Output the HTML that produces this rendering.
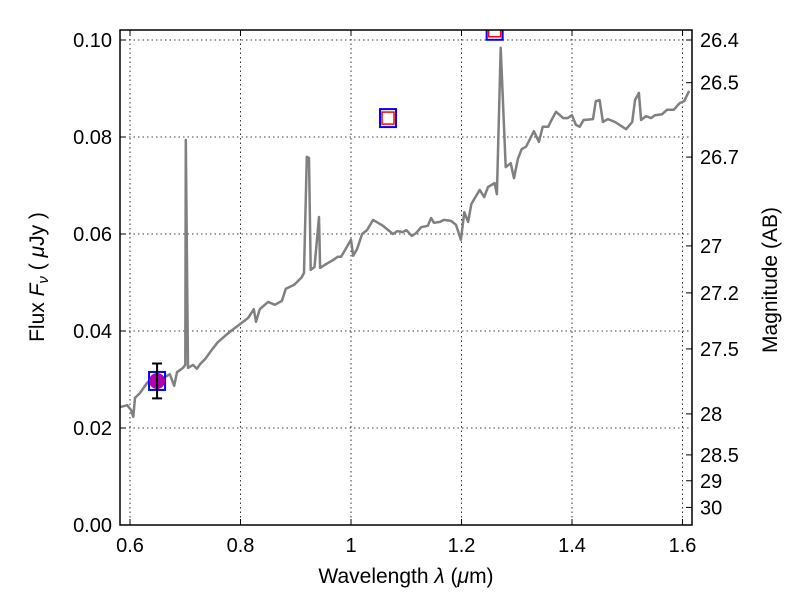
<!DOCTYPE html>
<html><head><meta charset="utf-8"><style>
body{margin:0;background:#fff}
svg text{font-family:"Liberation Sans","DejaVu Sans",sans-serif;fill:#000}
</style></head><body>
<svg id="c" width="800" height="600" viewBox="0 0 800 600">
<defs><clipPath id="clip"><rect x="120" y="30" width="572" height="495"/></clipPath></defs>
<rect x="0" y="0" width="800" height="600" fill="#fff"/>
<g id="grid"></g>
<g id="plot" clip-path="url(#clip)"></g>
<rect x="120" y="30" width="572" height="495" fill="none" stroke="#000" stroke-width="1.5"/>
<g id="axes"></g>
<text x="406" y="583" font-size="21" text-anchor="middle">Wavelength  <tspan font-style="italic">λ</tspan> (<tspan font-style="italic">μ</tspan>m)</text>
<text transform="translate(44,277) rotate(-90)" font-size="21" text-anchor="middle">Flux  <tspan font-style="italic">F<tspan font-size="15" dy="4">ν</tspan></tspan><tspan dy="-4">  (  </tspan><tspan font-style="italic">μ</tspan>Jy )</text>
<text transform="translate(777,280) rotate(-90)" font-size="21" text-anchor="middle">Magnitude (AB)</text>
</svg>
<script>
const wavelengths=[0.582,0.595,0.602,0.606,0.609,0.618,0.631,0.640,0.660,0.672,0.680,0.685,0.696,0.700,0.701,0.705,0.714,0.721,0.727,0.736,0.741,0.748,0.759,0.772,0.785,0.799,0.814,0.824,0.828,0.835,0.850,0.862,0.875,0.882,0.897,0.911,0.915,0.920,0.924,0.927,0.934,0.942,0.944,0.955,0.967,0.976,0.982,1.0,1.004,1.011,1.02,1.029,1.040,1.058,1.076,1.084,1.094,1.100,1.110,1.118,1.127,1.139,1.145,1.150,1.161,1.168,1.181,1.190,1.199,1.205,1.212,1.218,1.224,1.233,1.241,1.248,1.26,1.264,1.271,1.280,1.289,1.295,1.302,1.309,1.317,1.324,1.331,1.340,1.347,1.357,1.362,1.371,1.384,1.392,1.40,1.407,1.414,1.421,1.438,1.443,1.450,1.456,1.465,1.478,1.498,1.509,1.514,1.521,1.525,1.534,1.543,1.550,1.563,1.572,1.584,1.595,1.603,1.612];
const fluxes=[0.0243,0.0247,0.0237,0.0223,0.0262,0.0272,0.0293,0.0303,0.0303,0.0311,0.0287,0.0315,0.0324,0.033,0.0794,0.0324,0.033,0.0322,0.0332,0.0342,0.035,0.0361,0.0377,0.039,0.0402,0.0414,0.0427,0.0445,0.0419,0.0445,0.046,0.0454,0.0462,0.0487,0.0495,0.0511,0.052,0.0759,0.0757,0.0526,0.0532,0.0635,0.053,0.0538,0.0546,0.0553,0.0553,0.0588,0.0555,0.0569,0.06,0.0608,0.0629,0.0617,0.06,0.0606,0.0604,0.0608,0.0596,0.0602,0.0614,0.0617,0.0633,0.0623,0.0625,0.0629,0.0627,0.0619,0.0588,0.0645,0.0625,0.0662,0.0674,0.0691,0.0676,0.0697,0.0705,0.0682,0.0984,0.0738,0.0746,0.0715,0.0755,0.0775,0.0780,0.0796,0.0812,0.0790,0.0821,0.0821,0.0833,0.0852,0.0839,0.0839,0.0845,0.0825,0.0821,0.0835,0.0837,0.0874,0.0876,0.0831,0.0837,0.0831,0.0816,0.0831,0.0876,0.0891,0.0835,0.0843,0.0839,0.0845,0.0847,0.0856,0.0856,0.087,0.0874,0.0895];
const photWave=[0.649,1.067,1.26];
const photFlux=[0.0297,0.0839,0.1019];
const obsWave=[0.649];
const obsFlux=[0.0297];
const obsErr=[0.0036];
const xTicks=[0.6,0.8,1.0,1.2,1.4,1.6];
const xTickLabels=["0.6","0.8","1","1.2","1.4","1.6"];
const yTicks=[0,0.02,0.04,0.06,0.08,0.10];
const yTickLabels=["0.00","0.02","0.04","0.06","0.08","0.10"];
const magTicks=[26.4,26.5,26.7,27,27.2,27.5,28,28.5,29,30];
const magTickLabels=["26.4","26.5","26.7","27","27.2","27.5","28","28.5","29","30"];

const NS="http://www.w3.org/2000/svg";
const X=v=>130+(v-0.6)*110.5/0.2;
const Y=v=>525-v*4850;
const magToFlux=m=>Math.pow(10,(23.9-m)/2.5);
function mk(tag,attrs,parent){const e=document.createElementNS(NS,tag);for(const k in attrs)e.setAttribute(k,attrs[k]);parent.appendChild(e);return e;}
const grid=document.getElementById('grid'),plot=document.getElementById('plot'),axes=document.getElementById('axes');

xTicks.forEach((t,i)=>{
 const x=X(t);
 let g=mk('line',{x1:x,x2:x,y1:30,y2:525,stroke:'#000','stroke-width':0.8,'stroke-dasharray':'1.5,3'},grid);
 
 
 mk('line',{x1:x,x2:x,y1:525,y2:519,stroke:'#000'},axes);
 mk('line',{x1:x,x2:x,y1:30,y2:36,stroke:'#000'},axes);
 let tx=mk('text',{x:x,y:552,'font-size':20,'text-anchor':'middle'},axes);
 tx.textContent=xTickLabels[i];
 
 
});
yTicks.forEach((t,i)=>{
 const y=Y(t);
 let g=mk('line',{x1:120,x2:692,y1:y,y2:y,stroke:'#000','stroke-width':0.8,'stroke-dasharray':'1.5,3'},grid);
 
 
 mk('line',{x1:120,x2:126,y1:y,y2:y,stroke:'#000'},axes);
 let tx=mk('text',{x:112,y:y+7,'font-size':20,'text-anchor':'end'},axes);
 tx.textContent=yTickLabels[i];
 
 
});
magTicks.forEach((m,i)=>{
 const y=Y(magToFlux(m));
 mk('line',{x1:686,x2:692,y1:y,y2:y,stroke:'#000'},axes);
 let tx=mk('text',{x:700,y:y+7,'font-size':20,'text-anchor':'start'},axes);
 tx.textContent=magTickLabels[i];
 
 
});

const pts=wavelengths.map((w,i)=>X(w).toFixed(1)+','+Y(fluxes[i]).toFixed(1)).join(' ');
const line=mk('polyline',{points:pts,fill:'none',stroke:'#808080','stroke-width':2.5,'stroke-linejoin':'round'},plot);



photWave.forEach((w,i)=>{
 const x=X(w),y=Y(photFlux[i]);
 const b=mk('rect',{x:x-8,y:y-9,width:16,height:18,fill:'none',stroke:'#00f','stroke-width':2},plot);
 
 
 if(i>0){
  const r=mk('rect',{x:x-6,y:y-6,width:12,height:12,fill:'none',stroke:'#f00','stroke-width':1.5},plot);
  
  
 }
});
obsWave.forEach((w,i)=>{
 const x=X(w),y=Y(obsFlux[i]),y1=Y(obsFlux[i]+obsErr[i]),y2=Y(obsFlux[i]-obsErr[i]);
 const c=mk('circle',{cx:x,cy:y,r:8,fill:'#b000b0'},plot);
 
 
 const e=mk('path',{d:`M${x},${y1}V${y2}M${x-5},${y1}H${x+5}M${x-5},${y2}H${x+5}`,stroke:'#000','stroke-width':2,fill:'none'},plot);
 
 
});
</script>
</body></html>
